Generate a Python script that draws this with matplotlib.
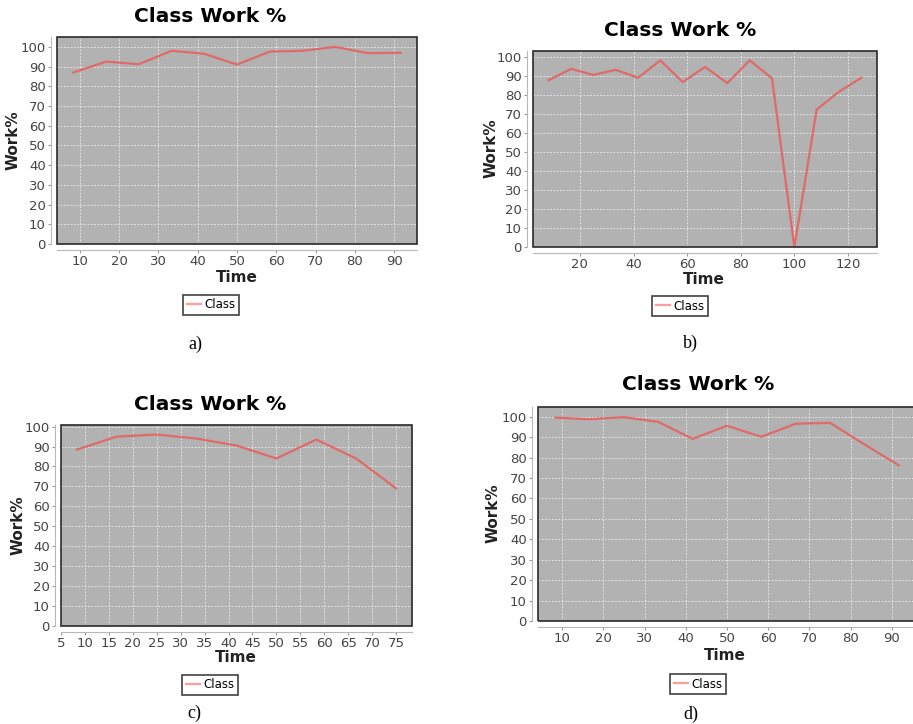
import matplotlib
matplotlib.use("Agg")
import matplotlib.pyplot as plt
from matplotlib.lines import Line2D
from matplotlib.patches import Rectangle


# time samples (about every 8.33 time units)
TIME_A = [8.33, 16.67, 25, 33.33, 41.67, 50, 58.33, 66.67, 75, 83.33, 91.67]
WORK_A = [87, 92.5, 91.2, 98, 96.5, 91, 97.6, 98, 100, 96.8, 97]

TIME_B = [8.33, 16.67, 25, 33.33, 41.67, 50, 58.33, 66.67, 75, 83.33, 91.67,
          100, 108.33, 116.67, 125]
WORK_B = [88, 94, 90.8, 93.5, 89.3, 98.5, 87, 95, 86.5, 98.5, 89, 0, 72.5, 82, 89.3]

TIME_C = [8.33, 16.67, 25, 33.33, 41.67, 50, 58.33, 66.67, 75]
WORK_C = [88.5, 95, 96, 94, 90.5, 84, 93.5, 84, 69]

TIME_D = [8.33, 16.67, 25, 33.33, 41.67, 50, 58.33, 66.67, 75, 83.33, 91.67]
WORK_D = [99.6, 98.8, 99.8, 97.5, 89.2, 95.6, 90.2, 96.6, 97, 86.5, 76.2]

XTICKS_A = [10, 20, 30, 40, 50, 60, 70, 80, 90]
XTICKS_B = [20, 40, 60, 80, 100, 120]
XTICKS_C = [5, 10, 15, 20, 25, 30, 35, 40, 45, 50, 55, 60, 65, 70, 75]
XTICKS_D = [10, 20, 30, 40, 50, 60, 70, 80, 90]
YTICKS = [0, 10, 20, 30, 40, 50, 60, 70, 80, 90, 100]

W, H = 913, 724
LINE_COLOR = "#e06a6a"
PLOT_BG = "#b2b2b2"


def fx(px):
    return px / W


def fy(py):
    return 1 - py / H


def make_panel(fig, box, times, work, xticks, title_xy, time_xy, work_xy, legend_xy, caption, caption_xy):
    left, top, right, bottom = box
    ax = fig.add_axes([fx(left), fy(bottom), (right - left) / W, (bottom - top) / H])
    ax.set_facecolor(PLOT_BG)
    ax.plot(times, work, color=LINE_COLOR, lw=1.6, zorder=3)

    ax.margins(x=0.05)
    ax.set_ylim(0, max(work) * 1.05)
    ax.set_xticks(xticks)
    ax.set_yticks(YTICKS)
    ax.grid(True, color="#eeeeee", ls=(0, (2, 2)), lw=0.6, zorder=1)
    ax.set_axisbelow(True)

    for side in ["top", "right"]:
        ax.spines[side].set_visible(False)
    for side in ["left", "bottom"]:
        ax.spines[side].set_position(("outward", 4))
        ax.spines[side].set_color("#b8b8b8")
    ax.add_patch(Rectangle((0, 0), 1, 1, transform=ax.transAxes, fill=False,
                           edgecolor="#2a2a2a", lw=1.2, clip_on=False, zorder=4))
    ax.tick_params(colors="#9a9a9a", labelcolor="#444444", labelsize=9.5, length=2, pad=2)

    fig.text(fx(title_xy[0]), fy(title_xy[1]), "Class Work %", ha="center", va="center",
             fontsize=14.5, fontweight="heavy")
    fig.text(fx(time_xy[0]), fy(time_xy[1]), "Time", ha="center", va="center",
             fontsize=11, fontweight="bold", color="#222222")
    fig.text(fx(work_xy[0]), fy(work_xy[1]), "Work%", ha="center", va="center",
             fontsize=11, fontweight="bold", rotation=90, color="#222222")

    handle = Line2D([], [], color="#ff9c9c", lw=1.6)
    leg = fig.legend([handle], ["Class"], loc="center",
                     bbox_to_anchor=(fx(legend_xy[0]), fy(legend_xy[1])),
                     frameon=True, fancybox=False, handlelength=1.2, handletextpad=0.25,
                     borderpad=0.3, borderaxespad=0,
                     prop={"family": "DejaVu Sans", "size": 8.5})
    leg.get_frame().set_edgecolor("#111111")
    leg.get_frame().set_linewidth(1.2)

    fig.text(fx(caption_xy[0]), fy(caption_xy[1]), caption, ha="center", va="center",
             fontsize=13, family="Liberation Serif")
    return ax


fig = plt.figure(figsize=(W / 100, H / 100), dpi=100)

make_panel(fig, (57, 37, 417, 244), TIME_A, WORK_A, XTICKS_A,
           (210, 16), (237, 277), (13, 140), (211, 305), "a)", (195, 344))
make_panel(fig, (533, 51, 877, 247), TIME_B, WORK_B, XTICKS_B,
           (680, 30), (704, 279), (491, 148), (680, 306), "b)", (690, 343))
make_panel(fig, (61, 425, 412, 626), TIME_C, WORK_C, XTICKS_C,
           (210, 404), (236, 658), (18, 525), (210, 685), "c)", (194, 713))
make_panel(fig, (538, 407, 916, 621), TIME_D, WORK_D, XTICKS_D,
           (698, 384), (725, 656), (493, 513), (698, 684), "d)", (691, 714))

fig.savefig("out.png", dpi=100, facecolor="white")
